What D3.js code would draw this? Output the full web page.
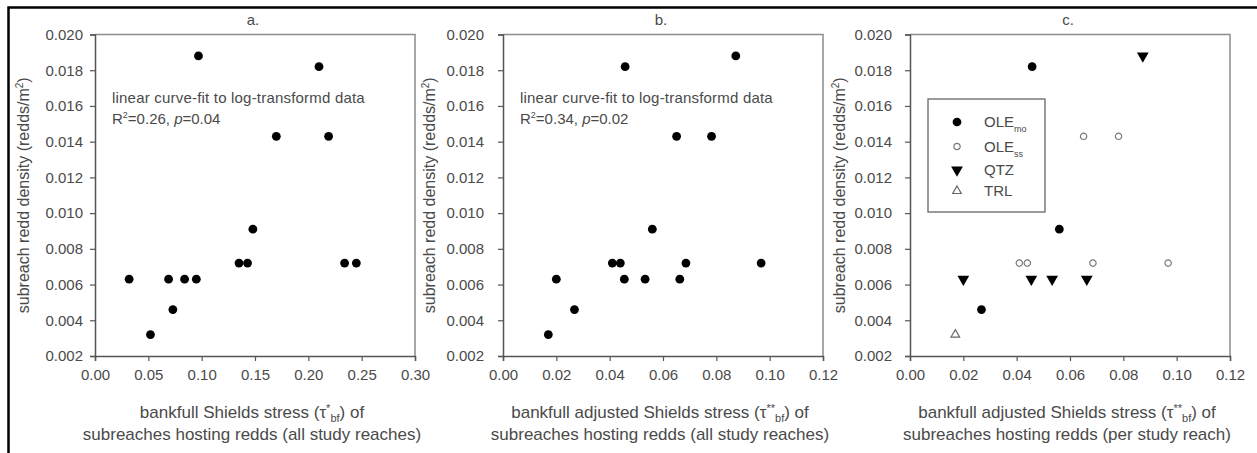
<!DOCTYPE html>
<html>
<head>
<meta charset="utf-8">
<script src="https://cdn.jsdelivr.net/npm/d3@7"></script>
<style>
  body { margin: 0; background: #fff; }
  svg { display: block; font-family: "Liberation Sans", Arial, sans-serif; }
</style>
</head>
<body>
<div id="chart"></div>
<script>
// panel a: bankfull Shields stress, all study reaches
const shieldsX = [0.032, 0.052, 0.069, 0.073, 0.084, 0.095, 0.097, 0.135, 0.143, 0.148, 0.170, 0.210, 0.219, 0.234, 0.245];
const densityA = [0.0063, 0.0032, 0.0063, 0.0046, 0.0063, 0.0063, 0.0188, 0.0072, 0.0072, 0.0091, 0.0143, 0.0182, 0.0143, 0.0072, 0.0072];

// panels b and c: adjusted Shields stress, same subreaches, grouped by study reach
const adjustedX = [0.0458, 0.0560, 0.0268, 0.0651, 0.0782, 0.0410, 0.0440, 0.0686, 0.0968, 0.0873, 0.0200, 0.0455, 0.0533, 0.0663, 0.0170];
const densityBC = [0.0182, 0.0091, 0.0046, 0.0143, 0.0143, 0.0072, 0.0072, 0.0072, 0.0072, 0.0188, 0.0063, 0.0063, 0.0063, 0.0063, 0.0032];
const reachGroup = ["OLEmo", "OLEmo", "OLEmo", "OLEss", "OLEss", "OLEss", "OLEss", "OLEss", "OLEss", "QTZ", "QTZ", "QTZ", "QTZ", "QTZ", "TRL"];

const legendNames = ["OLEmo", "OLEss", "QTZ", "TRL"];
const legendMain = ["OLE", "OLE", "QTZ", "TRL"];
const legendSub = ["mo", "ss", "", ""];

const yTicks = [0.002, 0.004, 0.006, 0.008, 0.010, 0.012, 0.014, 0.016, 0.018, 0.020];
const xTicksA = [0.00, 0.05, 0.10, 0.15, 0.20, 0.25, 0.30];
const xTicksBC = [0.00, 0.02, 0.04, 0.06, 0.08, 0.10, 0.12];

const width = 1257, height = 453;
const plotTop = 34.5, plotBottom = 356;

const svg = d3.select("#chart")
    .append("svg")
    .attr("width", width)
    .attr("height", height);

// outer frame (top and left edges show)
svg.append("rect")
    .attr("x", 8.5).attr("y", 7.5)
    .attr("width", 1270).attr("height", 470)
    .attr("fill", "none")
    .attr("stroke", "#000")
    .attr("stroke-width", 2.5);

const textColor = "#4a4a4a";

function drawPanel(opt) {
    const x = d3.scaleLinear().domain(opt.xDomain).range([opt.left, opt.right]);
    const y = d3.scaleLinear().domain([0.002, 0.020]).range([plotBottom, plotTop]);
    const g = svg.append("g");

    // frame top/right
    g.append("path")
        .attr("d", `M${opt.left},${plotTop}H${opt.right}V${plotBottom}`)
        .attr("fill", "none")
        .attr("stroke", "#8c8c8c")
        .attr("stroke-width", 1.5);

    const yAxis = g.append("g")
        .attr("transform", `translate(${opt.left},0)`)
        .call(d3.axisLeft(y).tickValues(yTicks).tickSize(5).tickPadding(opt.yPad).tickFormat(d3.format(".3f")));
    const xAxis = g.append("g")
        .attr("transform", `translate(0,${plotBottom})`)
        .call(d3.axisBottom(x).tickValues(opt.xTicks).tickSize(5).tickPadding(8).tickFormat(d3.format(".2f")));

    [xAxis, yAxis].forEach(a => {
        a.select(".domain").attr("stroke", "#555").attr("stroke-width", 1.5);
        a.selectAll(".tick line").attr("stroke", "#555").attr("stroke-width", 1.2);
        a.selectAll(".tick text")
            .attr("fill", textColor)
            .style("font-size", "15px")
            .style("font-family", "'Liberation Sans', Arial, sans-serif");
    });

    // panel title
    g.append("text")
        .attr("x", (opt.left + opt.right) / 2 - 2)
        .attr("y", 25)
        .attr("text-anchor", "middle")
        .attr("fill", textColor)
        .style("font-size", "15px")
        .text(opt.title);

    // y label
    const yl = g.append("text")
        .attr("transform", `translate(${opt.yLabelX},${(plotTop + plotBottom) / 2}) rotate(-90)`)
        .attr("text-anchor", "middle")
        .attr("fill", textColor)
        .style("font-size", "16px");
    yl.append("tspan").text("subreach redd density (redds/m");
    yl.append("tspan").attr("dy", -6).style("font-size", "10px").text("2");
    yl.append("tspan").attr("dy", 6).text(")");

    // x label, two lines
    const cx = (opt.left + opt.right) / 2 - 3;
    const xl = g.append("text")
        .attr("x", cx).attr("y", 418)
        .attr("text-anchor", "middle")
        .attr("fill", textColor)
        .style("font-size", "17px");
    xl.append("tspan").text(opt.xLabel + " (τ");
    xl.append("tspan").attr("dy", -6).style("font-size", "11px").text(opt.stars);
    xl.append("tspan").attr("dy", 10).style("font-size", "11px").text("bf");
    xl.append("tspan").attr("dy", -4).text(") of");
    g.append("text")
        .attr("x", cx).attr("y", 440)
        .attr("text-anchor", "middle")
        .attr("fill", textColor)
        .style("font-size", "17px")
        .text(opt.xLabel2);

    if (opt.note) {
        g.append("text")
            .attr("x", opt.left + 17).attr("y", 103)
            .attr("fill", textColor)
            .style("font-size", "15px")
            .style("letter-spacing", "0.2px")
            .text("linear curve-fit to log-transformd data");
        const n2 = g.append("text")
            .attr("x", opt.left + 17).attr("y", 124)
            .attr("fill", textColor)
            .style("font-size", "15px");
        n2.append("tspan").text("R");
        n2.append("tspan").attr("dy", -6).style("font-size", "9px").text("2");
        n2.append("tspan").attr("dy", 6).text("=" + opt.note[0] + ", ");
        n2.append("tspan").style("font-style", "italic").text("p");
        n2.append("tspan").text("=" + opt.note[1]);
    }

    return {g, x, y};
}

// symbols for panel c groups
function markerFor(name) {
    if (name === "OLEmo") return {type: d3.symbolCircle, size: 60, fill: "#000", stroke: "none", rot: 0};
    if (name === "OLEss") return {type: d3.symbolCircle, size: 32, fill: "#fff", stroke: "#777", rot: 0};
    if (name === "QTZ") return {type: d3.symbolTriangle, size: 60, fill: "#000", stroke: "none", rot: 180};
    return {type: d3.symbolTriangle, size: 32, fill: "#fff", stroke: "#666", rot: 0};
}

// panel a
const pa = drawPanel({
    left: 95, right: 415, xDomain: [0, 0.30], xTicks: xTicksA,
    yPad: 7, yLabelX: 29, title: "a.",
    xLabel: "bankfull Shields stress", stars: "*",
    xLabel2: "subreaches hosting redds (all study reaches)",
    note: ["0.26", "0.04"]
});
pa.g.selectAll("circle.pt")
    .data(shieldsX)
    .enter()
    .append("circle")
    .attr("class", "pt")
    .attr("cx", d => pa.x(d))
    .attr("cy", (d, i) => pa.y(densityA[i]))
    .attr("r", 4.4)
    .attr("fill", "#000");

// panel b
const pb = drawPanel({
    left: 503, right: 823, xDomain: [0, 0.12], xTicks: xTicksBC,
    yPad: 14, yLabelX: 435, title: "b.",
    xLabel: "bankfull adjusted Shields stress", stars: "**",
    xLabel2: "subreaches hosting redds (all study reaches)",
    note: ["0.34", "0.02"]
});
pb.g.selectAll("circle.pt")
    .data(adjustedX)
    .enter()
    .append("circle")
    .attr("class", "pt")
    .attr("cx", d => pb.x(d))
    .attr("cy", (d, i) => pb.y(densityBC[i]))
    .attr("r", 4.4)
    .attr("fill", "#000");

// panel c
const pc = drawPanel({
    left: 910, right: 1230, xDomain: [0, 0.12], xTicks: xTicksBC,
    yPad: 13, yLabelX: 845, title: "c.",
    xLabel: "bankfull adjusted Shields stress", stars: "**",
    xLabel2: "subreaches hosting redds (per study reach)",
    note: null
});
pc.g.selectAll("path.pt")
    .data(adjustedX)
    .enter()
    .append("path")
    .attr("class", "pt")
    .each(function (d, i) {
        const m = markerFor(reachGroup[i]);
        d3.select(this)
            .attr("d", d3.symbol().type(m.type).size(m.size)())
            .attr("transform", `translate(${pc.x(d)},${pc.y(densityBC[i])}) rotate(${m.rot})`)
            .attr("fill", m.fill)
            .attr("stroke", m.stroke)
            .attr("stroke-width", 1.2);
    });

// legend
const lg = pc.g.append("g");
lg.append("rect")
    .attr("x", 928).attr("y", 99)
    .attr("width", 117).attr("height", 113)
    .attr("fill", "#fff")
    .attr("stroke", "#666")
    .attr("stroke-width", 1.3);
const rowY = [122, 146.5, 170, 191];
legendNames.forEach((name, i) => {
    const m = markerFor(name);
    lg.append("path")
        .attr("d", d3.symbol().type(m.type).size(m.size)())
        .attr("transform", `translate(957,${rowY[i]}) rotate(${m.rot})`)
        .attr("fill", m.fill)
        .attr("stroke", m.stroke)
        .attr("stroke-width", 1.2);
    const t = lg.append("text")
        .attr("x", 984).attr("y", rowY[i] + 5)
        .attr("fill", textColor)
        .style("font-size", "15px");
    t.append("tspan").text(legendMain[i]);
    if (legendSub[i]) {
        t.append("tspan").attr("dy", 5).style("font-size", "9px").text(legendSub[i]);
    }
});
</script>
</body>
</html>
